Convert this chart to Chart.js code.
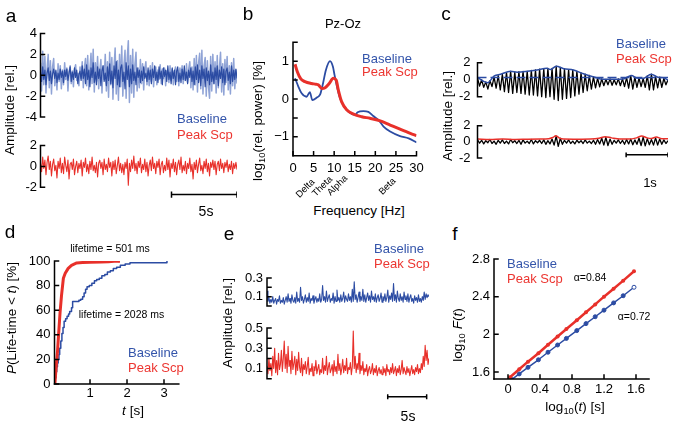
<!DOCTYPE html>
<html><head><meta charset="utf-8">
<script src="https://cdn.jsdelivr.net/npm/chart.js@4/dist/chart.umd.min.js"></script>
<style>
html,body{margin:0;padding:0;background:#fff;width:675px;height:425px;overflow:hidden;}
#root{position:relative;width:675px;height:425px;font-family:"Liberation Sans",Arial,Helvetica,sans-serif;}
canvas{position:absolute;}
.t{position:absolute;white-space:nowrap;line-height:1;}
.t sub{font-size:70%;vertical-align:-0.25em;line-height:0;}
</style></head><body><div id="root"></div>
<script>
// ---------- Panel a : raw traces ----------
const aDuration = 15;
const aBaseLight = [1.2,-1.5,2.3,-0.9,1.8,-1.7,0.6,2.0,-1.2,1.4,-1.8,0.8,1.6,-1.0,0.3,-1.4,1.1,-0.6,0.9,-1.3,
0.5,-0.9,1.2,-0.4,0.7,-1.5,0.3,0.9,-0.8,0.4,-1.1,0.6,1.0,-0.5,0.2,-1.0,0.8,-0.3,1.3,-1.2,
0.7,1.6,-1.0,1.9,-1.4,0.5,2.1,-0.8,2.5,-1.6,1.2,-0.6,1.8,-1.3,0.4,1.5,-1.7,0.9,-0.4,2.0,
-1.5,1.3,-2.1,2.2,-0.9,1.7,-2.3,0.8,2.6,-1.8,1.4,-2.4,2.0,-1.1,2.8,-2.0,0.9,2.4,-2.2,1.6,
3.3,-2.6,1.9,-1.7,2.5,-2.1,1.0,2.2,-1.5,0.7,-1.2,1.5,-0.8,1.1,-1.4,0.6,1.3,-0.9,0.4,-1.0,
0.9,-0.6,1.2,-1.1,0.3,0.8,-0.9,0.5,-0.4,1.0,-0.8,0.6,-0.3,0.7,-1.0,0.4,0.2,-0.7,0.9,-0.5,
0.6,-0.9,0.3,0.8,-0.6,0.5,-1.0,0.7,-0.2,0.9,-0.8,0.4,-0.5,1.1,-0.7,0.6,1.3,-1.2,0.8,-1.4,
1.6,-0.9,1.9,-1.6,1.2,2.1,-1.3,2.4,-1.8,0.9,1.7,-2.0,1.4,-1.1,-2.2,1.8,-1.5,2.0,-0.8,1.3,
-1.7,1.9,-1.2,0.7,2.2,-1.6,1.1,-1.9,1.5,-0.7,1.8,-1.4,0.9,-1.8,1.2,-1.0,1.6,-1.3,0.5,-0.8];
const aBaseDark = [0.3,-0.6,0.8,-0.4,0.5,-0.9,0.2,0.7,-0.5,0.4,-0.8,0.1,0.6,-0.3,0.5,-0.7,0.2,-0.4,0.6,-0.2,
0.4,-0.7,0.5,-0.1,0.6,-0.5,0.2,0.8,-0.6,0.3,-0.4,0.7,-0.2,0.5,-0.8,0.1,0.4,-0.5,0.9,-0.3,
0.6,-0.8,1.0,-0.4,0.5,-1.1,0.7,-0.2,1.2,-0.7,0.3,-0.9,0.8,-0.3,0.6,-1.0,0.4,0.9,-0.6,0.2,
-1.0,0.8,-0.5,1.1,-0.8,0.4,-1.2,0.9,-0.3,1.3,-0.9,0.5,-1.1,0.7,1.0,-0.6,0.3,-1.3,1.2,-0.4,
0.9,-1.1,0.6,-0.8,1.0,-0.5,0.3,-0.9,0.7,-0.2,0.5,-0.7,0.4,-0.5,0.8,-0.3,0.2,-0.6,0.7,-0.4,
0.5,-0.8,0.6,-0.2,0.9,-0.5,0.3,-0.7,0.8,-0.3,0.4,-0.9,0.7,-0.1,0.5,-0.6,0.9,-0.4,0.3,-0.8,
0.7,-0.3,0.5,-0.9,0.4,0.8,-0.6,0.2,-0.7,0.6,-0.4,0.9,-0.5,0.3,-0.8,0.5,-0.2,0.7,-0.6,0.4,
-0.9,0.8,-0.4,1.0,-0.7,0.5,-1.0,0.9,-0.3,0.6,-1.1,0.7,-0.5,0.4,-0.9,1.0,-0.6,0.3,-0.8,0.7,
-0.4,0.9,-1.0,0.5,-0.3,0.8,-0.7,0.6,-0.9,0.4,0.7,-0.5,0.3,-0.8,0.9,-0.6,0.5,-0.4,0.6,-0.3];
const aPeak = [0.3,-0.5,0.9,-0.2,0.6,-0.8,0.4,1.0,-0.3,0.5,-0.9,0.2,0.7,-0.4,0.1,-1.1,0.5,-0.2,0.8,-0.6,
0.3,-0.7,0.9,0.1,-0.5,0.6,-1.2,0.2,0.4,-0.3,0.7,-0.8,0.0,0.5,-0.6,0.3,-0.2,0.6,-0.9,0.4,
-0.1,0.8,-0.5,0.2,-0.7,0.5,-0.3,0.9,-0.4,0.1,-0.6,0.4,-1.0,0.3,0.6,-0.2,0.4,-0.8,0.7,-0.3,
0.2,-0.5,0.8,-0.1,0.4,-0.9,0.5,-0.3,0.6,-0.7,0.1,0.9,-0.4,0.3,-0.6,0.2,-0.8,0.4,-0.2,0.7,
-1.8,0.3,-0.5,0.6,-0.2,1.0,-0.4,0.3,-0.7,0.5,-0.1,0.8,-0.6,0.2,-0.3,0.7,-0.5,0.4,-0.9,0.1,
0.6,-0.4,0.9,-0.2,0.3,-0.7,0.5,-0.1,0.7,-0.8,0.2,0.5,-0.6,0.1,-0.4,0.8,-0.3,0.6,-1.0,0.3,
-0.2,0.7,-0.5,0.4,-0.8,0.2,0.6,-0.3,0.9,-0.6,0.1,-0.4,0.5,-0.7,0.3,-0.2,0.8,-0.5,0.2,-1.2,
0.4,-0.3,0.6,-0.6,0.2,0.8,-0.4,0.1,-0.7,0.5,-0.2,0.7,-0.5,0.3,-0.9,0.4,-0.1,0.6,-0.3,0.5,
-0.8,0.2,0.5,-0.4,0.7,-0.2,0.3,-0.6,0.4,-0.1,0.6,-0.5,0.2,-0.3,0.5,-0.7,0.3,-0.2,0.4,-0.3];
const aScaleBar = [10, 15];
const aTicksTop = [4, 2, 0, -2, -4];
const aTicksBottom = [2, 0, -2];

// ---------- Panel b : spectra ----------
const bFreqBase = [0.5,1.3,2.1,3.3,4.1,4.7,5.8,6.6,7.2,8.0,9.0,9.7,10.1,10.6,11.3,12.2,13.5,15.1,15.7,17.1,18.3,19.5,20.8,22.0,23.6,26.0,28.1,30.0];
const bBase = [0.55,0.33,0.15,0.06,0.18,-0.03,0.04,0.12,0.37,0.77,1.0,0.85,0.63,0.37,0.06,-0.16,-0.34,-0.42,-0.35,-0.32,-0.34,-0.45,-0.56,-0.73,-0.86,-0.98,-1.04,-1.15];
const bFreqPeak = [0.5,1.05,1.9,2.9,4.5,5.6,6.2,7.0,7.8,8.8,9.8,10.5,11.0,11.8,13.1,14.7,16.7,18.7,21.2,23.6,26.0,28.5,30.0];
const bPeak = [0.92,0.72,0.53,0.46,0.41,0.39,0.37,0.28,0.30,0.41,0.55,0.50,0.24,-0.07,-0.29,-0.40,-0.47,-0.51,-0.58,-0.69,-0.80,-0.91,-0.97];
const bXTicks = [0, 5, 10, 15, 20, 25, 30];
const bYTicks = [1, 0, -1];
const bBands = ['Delta', 'Theta', 'Alpha', 'Beta'];

// ---------- Panel c : alpha-band signal and envelope ----------
const cDuration = 4.55;
const cBaseOsc = [0.2,-0.75,0.0,-0.9,-0.25,-1.1,-0.1,-0.8,0.3,-1.0,0.5,-1.2,0.65,-1.4,0.85,-1.5,1.0,-1.6,0.9,-1.5,
0.95,-1.6,1.0,-1.7,1.0,-1.8,1.1,-1.8,1.15,-1.9,1.25,-2.0,1.3,-2.1,1.35,-2.0,1.35,-2.3,1.6,-2.45,
1.45,-2.3,1.3,-2.2,1.2,-2.1,1.15,-1.9,1.0,-1.7,0.8,-1.5,0.65,-1.3,0.5,-1.1,0.35,-0.95,0.2,-0.85,
0.1,-0.7,0.05,-0.6,0.1,-0.65,0.0,-0.6,0.1,-0.7,0.1,-0.8,0.25,-1.0,0.5,-1.1,0.3,-0.9,0.2,-0.8,
0.15,-0.9,0.45,-1.2,0.65,-1.2,0.4,-0.95,0.3,-0.9,0.15,-0.6,0.0];
const cEnvTimeBase = [0,0.24,0.40,0.55,0.79,0.95,1.19,1.42,1.66,1.74,1.88,2.06,2.29,2.53,2.77,3.0,3.24,3.48,3.68,3.80,3.95,4.15,4.31,4.43,4.55];
const cBaseEnv = [0.25,-0.35,0.45,0.65,1.0,0.9,1.0,1.15,1.35,1.2,1.6,1.3,1.15,0.7,0.35,0.05,0.05,0.1,0.5,0.2,0.15,0.65,0.3,0.25,-0.05];
const cBaseThreshold = 0.26;
const cPeakOsc = [0.25,-0.15,0.2,-0.25,0.15,-0.1,0.3,-0.2,0.1,-0.3,0.2,-0.15,0.25,-0.2,0.1,-0.25,0.3,-0.1,0.15,-0.2,
0.2,-0.3,0.25,-0.15,0.1,-0.2,0.3,-0.25,0.15,-0.1,0.2,-0.2,0.25,-0.3,0.15,-0.25,0.35,-0.4,0.7,-0.55,
0.45,-0.3,0.2,-0.15,0.25,-0.2,0.1,-0.25,0.2,-0.1,0.15,-0.2,0.25,-0.15,0.1,-0.2,0.2,-0.3,0.3,-0.25,
0.45,-0.4,0.55,-0.45,0.35,-0.3,0.2,-0.15,0.25,-0.2,0.2,-0.3,0.3,-0.25,0.35,-0.35,0.25,-0.3,0.45,-0.45,
0.6,-0.5,0.4,-0.35,0.3,-0.4,0.5,-0.4,0.35,-0.3,0.25,-0.2,0.15];
const cEnvTimePeak = [0,0.3,0.6,0.9,1.2,1.5,1.7,1.8,1.87,1.95,2.05,2.4,2.7,2.9,3.05,3.2,3.4,3.6,3.8,3.92,4.05,4.15,4.27,4.4,4.55];
const cPeakEnv = [0.35,0.3,0.35,0.3,0.33,0.35,0.38,0.55,0.75,0.5,0.35,0.33,0.35,0.45,0.65,0.5,0.35,0.35,0.5,0.72,0.5,0.42,0.6,0.4,0.38];
const cScaleBar = [3.55, 4.55];
const cTicks = [2, 0, -2];

// ---------- Panel d : life-time distributions ----------
const dBaseT = [0.04,0.06,0.08,0.10,0.12,0.14,0.16,0.18,0.21,0.24,0.27,0.30,0.34,0.38,0.42,0.45,0.50,0.53,0.62,0.70,0.75,0.80,0.84,0.88,0.92,0.98,1.05,1.12,1.18,1.25,1.32,1.40,1.47,1.55,1.63,1.72,1.82,1.95,2.08,2.5,3.07,3.08];
const dBaseP = [0,5,10,14,17,20,24,29,35,41,46,51,53,55,57,59,62,67,67,68,69,71,74,77,79,80,82,84,85,86,88,89,91,92,94,95,96.5,97.5,98.6,98.6,98.6,100];
const dPeakT = [0.05,0.07,0.09,0.12,0.15,0.19,0.23,0.28,0.33,0.41,0.5,0.64,0.8,1.0,1.3,1.5,1.65,1.72,1.81];
const dPeakP = [0,8,16,26,40,58,72,86,90,94,96.5,98.4,98.7,98.9,99.1,99.3,99.8,100,99.5];
const dXTicks = [1, 2, 3];
const dYTicks = [100, 80, 60, 40, 20, 0];

// ---------- Panel e : envelope amplitudes ----------
const eDuration = 20.8;
const eBase = [0.16,0.05,0.09,0.03,0.07,0.04,0.1,0.03,0.06,0.08,0.02,0.07,0.05,0.11,0.03,0.06,0.04,0.09,0.02,0.06,
0.1,0.04,0.13,0.05,0.08,0.03,0.12,0.06,0.04,0.09,0.03,0.15,0.05,0.08,0.04,0.2,0.06,0.1,0.03,0.07,
0.12,0.04,0.09,0.05,0.14,0.03,0.08,0.06,0.11,0.03,0.07,0.1,0.04,0.08,0.05,0.13,0.04,0.07,0.22,0.06,
0.1,0.04,0.16,0.05,0.09,0.12,0.04,0.08,0.06,0.14,0.03,0.1,0.05,0.17,0.06,0.09,0.04,0.12,0.05,0.08,
0.15,0.04,0.11,0.07,0.05,0.13,0.06,0.1,0.04,0.18,0.05,0.26,0.07,0.12,0.04,0.09,0.15,0.05,0.1,0.06,
0.18,0.05,0.12,0.04,0.09,0.14,0.06,0.11,0.04,0.16,0.07,0.1,0.05,0.13,0.04,0.09,0.12,0.05,0.08,0.14,
0.04,0.1,0.06,0.13,0.05,0.09,0.17,0.04,0.11,0.07,0.14,0.05,0.24,0.06,0.12,0.04,0.16,0.08,0.05,0.13,
0.06,0.1,0.04,0.15,0.07,0.11,0.05,0.13,0.04,0.09,0.12,0.05,0.08,0.03,0.11,0.06,0.09,0.04,0.12,0.05,
0.08,0.04,0.1,0.06,0.15,0.07,0.13,0.09,0.12,0.1];
const ePeak = [0.12,0.05,0.2,0.08,0.15,0.03,0.22,0.1,0.3,0.06,0.18,0.04,0.25,0.09,0.14,0.28,0.07,0.2,0.37,0.1,
0.24,0.06,0.32,0.12,0.18,0.05,0.27,0.09,0.15,0.22,0.04,0.19,0.08,0.26,0.11,0.06,0.2,0.03,0.14,0.09,
0.17,0.05,0.12,0.21,0.04,0.1,0.07,0.15,0.03,0.12,0.08,0.18,0.05,0.1,0.14,0.04,0.09,0.06,0.2,0.05,
0.13,0.08,0.22,0.04,0.11,0.16,0.06,0.09,0.14,0.03,0.18,0.07,0.12,0.05,0.24,0.08,0.15,0.04,0.1,0.19,
0.06,0.13,0.08,0.2,0.05,0.11,0.09,0.16,0.04,0.12,0.47,0.1,0.22,0.06,0.15,0.09,0.25,0.05,0.13,0.08,
0.17,0.04,0.1,0.07,0.14,0.03,0.09,0.12,0.05,0.08,0.15,0.04,0.1,0.06,0.13,0.03,0.08,0.11,0.05,0.09,
0.04,0.12,0.06,0.1,0.03,0.14,0.07,0.09,0.04,0.11,0.06,0.15,0.05,0.08,0.12,0.03,0.1,0.06,0.13,0.04,
0.09,0.18,0.05,0.11,0.07,0.04,0.12,0.06,0.1,0.03,0.08,0.13,0.05,0.09,0.04,0.11,0.07,0.14,0.05,0.1,
0.06,0.15,0.09,0.22,0.12,0.33,0.18,0.28,0.14,0.2];
const eScaleBar = [15.5, 20.5];
const eTicksTop = [0.3, 0.1];
const eTicksBottom = [0.5, 0.3, 0.1];

// ---------- Panel f : DFA ----------
const fBaseX = [0.046,0.14,0.25,0.38,0.50,0.62,0.73,0.86,0.975,1.09,1.20,1.32,1.44,1.575];
const fBaseY = [1.52,1.58,1.65,1.73,1.81,1.887,1.957,2.04,2.114,2.187,2.257,2.334,2.41,2.50];
const fPeakX = [0.025,0.14,0.25,0.38,0.50,0.62,0.73,0.86,0.975,1.09,1.20,1.32,1.44,1.575];
const fPeakY = [1.545,1.63,1.71,1.80,1.89,1.977,2.057,2.15,2.235,2.318,2.40,2.485,2.57,2.67];
const fXTicks = [0, 0.4, 0.8, 1.2, 1.6];
const fYTicks = [2.8, 2.4, 2, 1.6];

// ================= drawing =================
const FONT = '"Liberation Sans", Arial, Helvetica, sans-serif';
const BLUE = '#2c4ca3', LIGHT = '#8fa3d6', RED = '#e8302a', LBLUE_TXT = '#3354aa', LRED_TXT = '#ec3631';
const root = document.getElementById('root');

function txt(s, x, y, o = {}) {
  const d = document.createElement('div');
  d.className = 't'; d.innerHTML = s;
  d.style.left = x + 'px'; d.style.top = y + 'px';
  d.style.fontSize = (o.size || 13) + 'px';
  d.style.color = o.color || '#000';
  const ax = o.align === 'left' ? '0' : '-50%';
  d.style.transform = 'translate(' + ax + ',-50%)' + (o.rot ? ' rotate(' + o.rot + 'deg)' : '');
  root.appendChild(d);
}

const xy = (xs, ys) => xs.map((x, i) => ({x: x, y: ys[i]}));
const series = (vals, dur) => vals.map((v, i) => ({x: i * dur / (vals.length - 1), y: v}));
const barPts = (b, y, cap) => [{x:b[0],y:y+cap},{x:b[0],y:y-cap},{x:b[0],y:y},{x:b[1],y:y},{x:b[1],y:y+cap},{x:b[1],y:y-cap}];

const axesPlugin = {
  id: 'axes',
  afterDatasetsDraw(chart, args, opts) {
    const ctx = chart.ctx, xs = chart.scales.x, ys = chart.scales.y, L = 4;
    ctx.save();
    ctx.strokeStyle = '#000'; ctx.lineWidth = 1.5; ctx.lineCap = 'square';
    if (opts.y) {
      const px = xs.getPixelForValue(xs.min);
      ctx.beginPath();
      ctx.moveTo(px, ys.getPixelForValue(opts.y.range[0]));
      ctx.lineTo(px, ys.getPixelForValue(opts.y.range[1]));
      for (const v of opts.y.ticks) { const py = ys.getPixelForValue(v); ctx.moveTo(px, py); ctx.lineTo(px + L, py); }
      ctx.stroke();
    }
    if (opts.x) {
      const py = ys.getPixelForValue(ys.min);
      ctx.beginPath();
      ctx.moveTo(xs.getPixelForValue(xs.min), py);
      ctx.lineTo(xs.getPixelForValue(xs.max), py);
      for (const v of opts.x.ticks) { const px = xs.getPixelForValue(v); ctx.moveTo(px, py); ctx.lineTo(px, py - L); }
      ctx.stroke();
    }
    ctx.restore();
  }
};

function mk(box, area, o) {
  const c = document.createElement('canvas');
  c.width = box.w; c.height = box.h;
  c.style.left = box.l + 'px'; c.style.top = box.t + 'px';
  c.style.width = box.w + 'px'; c.style.height = box.h + 'px';
  root.appendChild(c);
  const yw = area.l - box.l, pt = area.t - box.t, pr = box.l + box.w - area.r, bh = box.t + box.h - area.b;
  const tf = {family: FONT, size: 13};
  const hasX = !!o.x.labels;
  new Chart(c, {
    type: 'line',
    data: {datasets: o.datasets},
    options: {
      responsive: false, animation: false, events: [], devicePixelRatio: 1,
      layout: {padding: {left: 0, top: pt, right: pr, bottom: hasX ? 0 : bh}},
      scales: {
        x: {type: 'linear', bounds: 'data', min: o.x.min, max: o.x.max, display: hasX,
            afterFit: s => { s.height = bh; },
            afterBuildTicks: s => { s.ticks = (o.x.labels || []).map(v => ({value: v})); },
            ticks: {font: tf, color: '#000', padding: o.x.pad, maxRotation: 0, autoSkip: false, callback: o.x.fmt || (v => String(v))},
            grid: {display: false, drawTicks: false}, border: {display: false}},
        y: {type: 'linear', bounds: 'data', min: o.y.min, max: o.y.max,
            afterFit: s => { s.width = yw; },
            afterBuildTicks: s => { s.ticks = o.y.labels.map(v => ({value: v})); },
            ticks: {font: tf, color: '#000', padding: o.y.pad, autoSkip: false, callback: o.y.fmt || (v => String(v))},
            grid: {display: false, drawTicks: false}, border: {display: false}}
      },
      plugins: {legend: {display: false}, tooltip: {enabled: false}, axes: o.axes},
      elements: {point: {radius: 0}, line: {tension: 0, borderJoinStyle: 'round'}}
    },
    plugins: [axesPlugin]
  });
}

const ln = (data, color, w, extra) => Object.assign({data: data, borderColor: color, borderWidth: w, fill: false, pointRadius: 0}, extra || {});

// Panel a top
mk({l:0, t:20, w:245, h:116}, {l:40.5, t:33.5, r:237, b:126.5}, {
  x: {min: 0, max: aDuration},
  y: {min: -4, max: 4, labels: aTicksTop, pad: 3.5},
  axes: {y: {range: [-4, 4], ticks: aTicksTop}},
  datasets: [ln(series(aBaseDark, aDuration), BLUE, 1.2, {order: 0}), ln(series(aBaseLight, aDuration), LIGHT, 1.5, {order: 1})]
});
// Panel a bottom
mk({l:0, t:132, w:245, h:80}, {l:40.5, t:145.5, r:237, b:205.95}, {
  x: {min: 0, max: aDuration},
  y: {min: -3.2, max: 2, labels: aTicksBottom, pad: 3.5},
  axes: {y: {range: [-2, 2], ticks: aTicksBottom}},
  datasets: [ln(series(aPeak, aDuration), RED, 1.1), ln(barPts(aScaleBar, -2.69, 0.3), '#000', 1.5, {borderJoinStyle: 'miter'})]
});

// Panel b
mk({l:245, t:30, w:185, h:150}, {l:293, t:42.3, r:416.5, b:155.7}, {
  x: {min: 0, max: 30, labels: bXTicks, pad: 5},
  y: {min: -1.5, max: 1.5, labels: bYTicks, pad: 4, fmt: v => v < 0 ? '\u2212' + Math.abs(v) : String(v)},
  axes: {y: {range: [-1.5, 1.5], ticks: [1.5, 1, 0.5, 0, -0.5, -1]}, x: {ticks: bXTicks}},
  datasets: [
    ln(xy(bFreqBase, bBase), BLUE, 1.8, {cubicInterpolationMode: 'monotone', order: 1}),
    ln(xy(bFreqPeak, bPeak), RED, 3, {cubicInterpolationMode: 'monotone', order: 0})
  ]
});

// Panel c top
mk({l:450, t:48, w:225, h:78}, {l:477.5, t:61, r:668, b:113.9}, {
  x: {min: 0, max: cDuration},
  y: {min: -2.6, max: 2, labels: cTicks, pad: 7},
  axes: {y: {range: [-2, 2], ticks: [2, -2]}},
  datasets: [
    ln(series(cBaseOsc, cDuration), '#000', 1.3, {order: 2}),
    ln(xy(cEnvTimeBase, cBaseEnv), BLUE, 1.5, {order: 1, cubicInterpolationMode: 'monotone'}),
    ln([{x: 0, y: cBaseThreshold}, {x: cDuration, y: cBaseThreshold}], BLUE, 1.5, {order: 0, borderDash: [9, 4]})
  ]
});
// Panel c bottom
mk({l:450, t:111, w:225, h:72}, {l:477.5, t:124, r:668, b:170.5}, {
  x: {min: 0, max: cDuration},
  y: {min: -2, max: 2, labels: cTicks, pad: 7},
  axes: {y: {range: [-2, 2], ticks: [2, -2]}},
  datasets: [
    ln(series(cPeakOsc, cDuration), '#000', 1.3, {order: 1}),
    ln(xy(cEnvTimePeak, cPeakEnv), RED, 1.5, {order: 0, cubicInterpolationMode: 'monotone'}),
    ln(barPts(cScaleBar, -1.61, 0.3), '#000', 1.5, {borderJoinStyle: 'miter'})
  ]
});

// Panel d
mk({l:0, t:245, w:195, h:160}, {l:54.5, t:261, r:178.8, b:384}, {
  x: {min: 0.04, max: 3.4, labels: dXTicks, pad: 2},
  y: {min: 0, max: 100, labels: dYTicks, pad: 4},
  axes: {y: {range: [0, 100], ticks: dYTicks}, x: {ticks: dXTicks}},
  datasets: [
    ln(xy(dBaseT, dBaseP), BLUE, 1.5, {stepped: 'before', order: 1}),
    ln(xy(dPeakT, dPeakP), RED, 3, {order: 0})
  ]
});

// Panel e top
mk({l:240, t:264, w:200, h:58}, {l:267, t:278, r:429, b:314}, {
  x: {min: 0, max: eDuration},
  y: {min: 0, max: 0.3, labels: eTicksTop, pad: 4},
  axes: {y: {range: [0, 0.3], ticks: [0.3, 0.2, 0.1, 0]}},
  datasets: [ln(series(eBase, eDuration), BLUE, 1.1)]
});
// Panel e bottom
mk({l:240, t:314, w:200, h:106}, {l:267, t:328, r:429, b:412}, {
  x: {min: 0, max: eDuration},
  y: {min: -0.25, max: 0.5, labels: eTicksBottom, pad: 4},
  axes: {y: {range: [0, 0.5], ticks: [0.5, 0.4, 0.3, 0.2, 0.1, 0]}},
  datasets: [ln(series(ePeak, eDuration), RED, 1.1), ln(barPts(eScaleBar, -0.179, 0.025), '#000', 1.5, {borderJoinStyle: 'miter'})]
});

// Panel f
mk({l:450, t:245, w:215, h:155}, {l:494, t:259, r:649, b:379}, {
  x: {min: -0.175, max: 1.7625, labels: fXTicks, pad: 3},
  y: {min: 1.526, max: 2.8, labels: fYTicks, pad: 4},
  axes: {y: {range: [1.526, 2.8], ticks: fYTicks}, x: {ticks: fXTicks}},
  datasets: [
    ln(xy(fPeakX, fPeakY), RED, 2.5, {pointRadius: 2, pointBackgroundColor: RED, pointBorderColor: RED, pointBorderWidth: 0, order: 0}),
    ln(xy(fBaseX, fBaseY), BLUE, 1.5, {pointRadius: 2, pointBorderColor: BLUE, pointBorderWidth: 1,
      pointBackgroundColor: c => c.dataIndex === fBaseX.length - 1 ? '#fff' : BLUE, order: 1})
  ]
});

// ---------- texts ----------
[['a',11,15],['b',248,13],['c',446,13],['d',10,231],['e',229,233],['f',455,233]].forEach(p => txt(p[0], p[1], p[2], {size: 19}));

txt('Amplitude [rel.]', 9.5, 110, {size: 13.5, rot: -90});
txt('log<sub>10</sub>(rel. power) [%]', 258, 121, {size: 13.5, rot: -90});
txt('Frequency [Hz]', 359, 211, {size: 13.5});
txt('Pz-Oz', 343, 23, {size: 13});
txt('Amplitude [rel.]', 448, 116, {size: 13.5, rot: -90});
txt('<i>P</i>(Life-time &lt; <i>t</i>) [%]', 12, 318, {size: 13.5, rot: -90});
txt('<i>t</i> [s]', 133, 411, {size: 13.5});
txt('Amplitude [rel.]', 228, 323, {size: 13.5, rot: -90});
txt('log<sub>10</sub> <i>F</i>(<i>t</i>)', 458, 335, {size: 13.5, rot: -90});
txt('log<sub>10</sub>(<i>t</i>) [s]', 575, 407, {size: 13.5});

const bandPos = [[305,188],[322,186],[337,185],[387,186]];
bBands.forEach((b, i) => txt(b, bandPos[i][0], bandPos[i][1], {size: 9.5, rot: -45}));

[[177,118,134],[362,57.5,71],[616,43,58],[128,352,367],[374,248,263],[507,263,278]].forEach(p => {
  txt('Baseline', p[0], p[1], {size: 13, align: 'left', color: LBLUE_TXT});
  txt('Peak Scp', p[0], p[2], {size: 13, align: 'left', color: LRED_TXT});
});

txt('5s', 206, 211, {size: 14});
txt('1s', 650, 182, {size: 13});
txt('5s', 408, 416, {size: 14});
txt('lifetime = 501 ms', 110, 248, {size: 10.5});
txt('lifetime = 2028 ms', 121.5, 314, {size: 10.5});
txt('\u03b1=0.84', 590, 277, {size: 10.5});
txt('\u03b1=0.72', 634, 316, {size: 10.5});
</script>
</body></html>
